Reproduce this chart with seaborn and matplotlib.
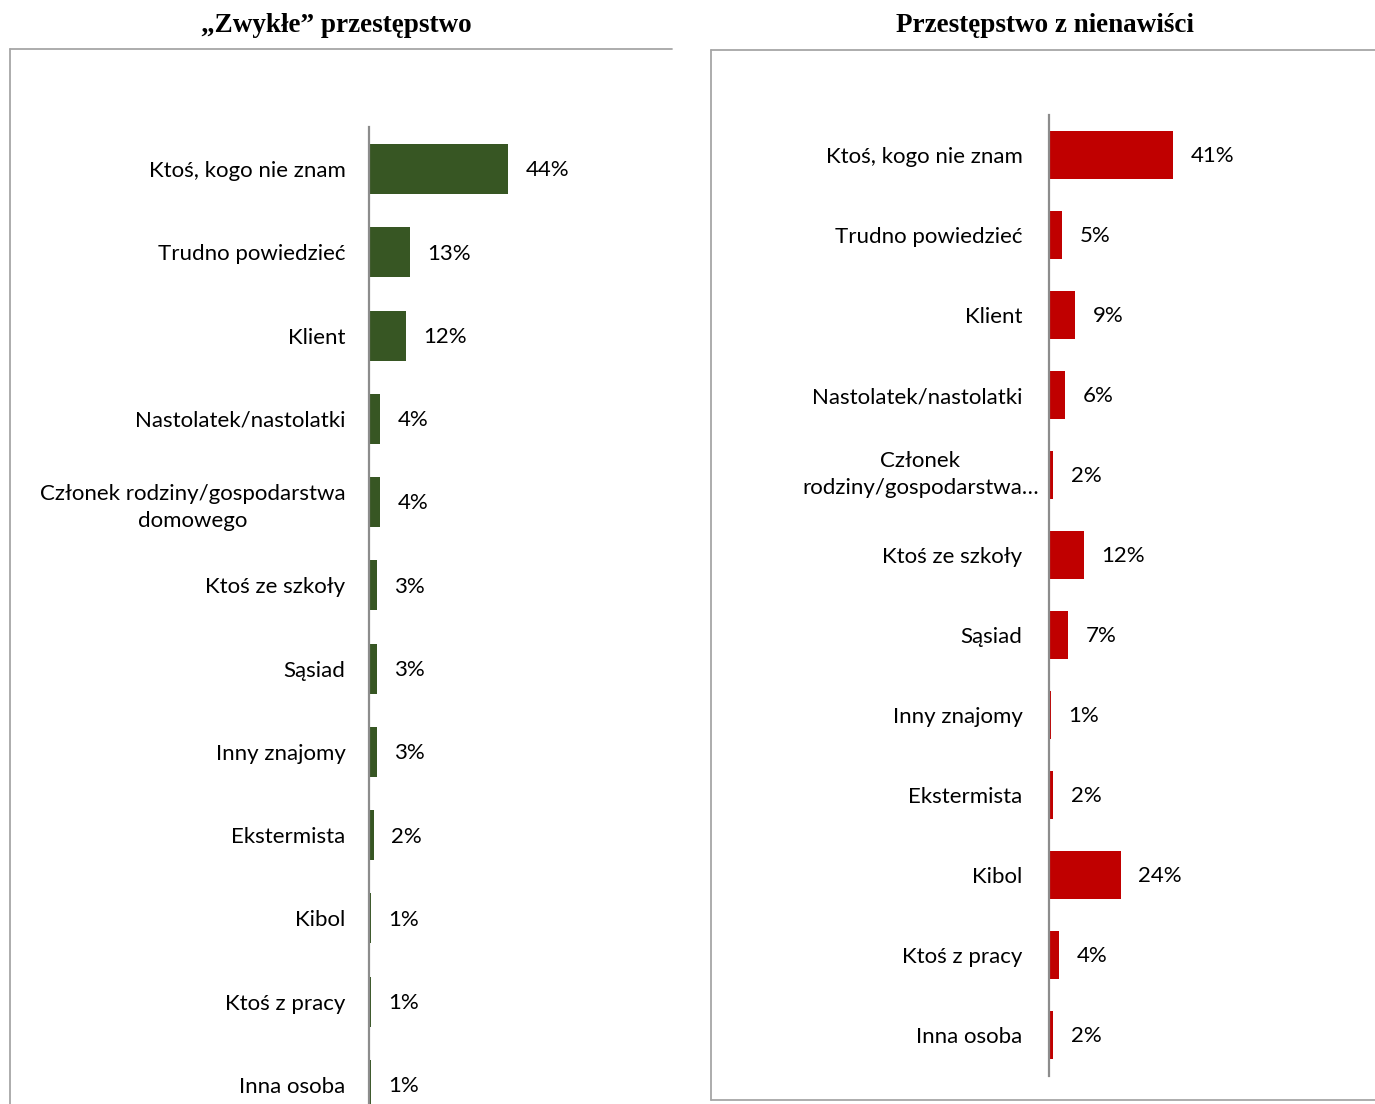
import matplotlib
matplotlib.use("Agg")
import matplotlib.pyplot as plt
import matplotlib.transforms as mtransforms
import pandas as pd
import seaborn as sns
from matplotlib.lines import Line2D

# "Zwykłe" przestępstwo
ordinary_categories = [
    "Ktoś, kogo nie znam",
    "Trudno powiedzieć",
    "Klient",
    "Nastolatek/nastolatki",
    "Członek rodziny/gospodarstwa\ndomowego",
    "Ktoś ze szkoły",
    "Sąsiad",
    "Inny znajomy",
    "Ekstermista",
    "Kibol",
    "Ktoś z pracy",
    "Inna osoba",
]
ordinary_values = [44, 13, 11.7, 3.5, 3.5, 2.5, 2.5, 2.5, 1.6, 0.5, 0.5, 0.5]
ordinary_labels = ["44%", "13%", "12%", "4%", "4%", "3%", "3%", "3%", "2%", "1%", "1%", "1%"]

# Przestępstwo z nienawiści
hate_categories = [
    "Ktoś, kogo nie znam",
    "Trudno powiedzieć",
    "Klient",
    "Nastolatek/nastolatki",
    "Członek\nrodziny/gospodarstwa…",
    "Ktoś ze szkoły",
    "Sąsiad",
    "Inny znajomy",
    "Ekstermista",
    "Kibol",
    "Ktoś z pracy",
    "Inna osoba",
]
hate_values = [41, 4.4, 8.7, 5.4, 1.4, 11.6, 6.4, 0.5, 1.4, 23.8, 3.4, 1.4]
hate_labels = ["41%", "5%", "9%", "6%", "2%", "12%", "7%", "1%", "2%", "24%", "4%", "2%"]

W, H = 1375, 1104
FONT = ["Lato", "DejaVu Sans"]
FRAME = "#a6a6a6"


def box(left, top, right, bottom):
    """Pixel box -> figure fraction [l, b, w, h]."""
    return [left / W, (H - bottom) / H, (right - left) / W, (bottom - top) / H]


def frame_line(fig, x0, y0, x1, y1):
    fig.add_artist(Line2D([x0 / W, x1 / W], [1 - y0 / H, 1 - y1 / H],
                          transform=fig.transFigure, color=FRAME, linewidth=1.3))


def draw_panel(fig, rect, categories, values, labels, color, xmax, ylim, pad):
    ax = fig.add_axes(rect)
    df = pd.DataFrame({"kategoria": categories, "wartosc": values})
    sns.barplot(
        data=df, x="wartosc", y="kategoria", orient="h",
        color=color, saturation=1, width=0.6, linewidth=0, ax=ax,
    )
    for i, (v, lab) in enumerate(zip(values, labels)):
        ax.annotate(lab, (v, i), xytext=(12.5, -1), textcoords="offset points",
                    va="center", ha="left", fontsize=16, family=FONT, color="#000000")
    ax.set_xlim(0, xmax)
    ax.set_ylim(*ylim)
    ax.set_xticks([])
    ax.set_xlabel("")
    ax.set_ylabel("")
    ax.tick_params(axis="y", length=0, pad=pad, labelsize=16, labelcolor="#000000")
    for lbl in ax.get_yticklabels():
        lbl.set_multialignment("center")
        lbl.set_linespacing(1.45)
        lbl.set_family(FONT)
    for side in ["top", "right", "bottom"]:
        ax.spines[side].set_visible(False)
    ax.spines["left"].set_color("#8c8c8c")
    ax.spines["left"].set_linewidth(1.6)
    ax.patch.set_alpha(0)
    return ax


sns.set_theme(style="white")
plt.rcParams["font.family"] = FONT

fig = plt.figure(figsize=(W / 100, H / 100), dpi=100, facecolor="white")

# frames around panels (left one runs off the bottom, right one off the right edge)
frame_line(fig, 10, 49, 672, 49)
frame_line(fig, 10, 49, 10, 1110)
frame_line(fig, 711, 50, 1380, 50)
frame_line(fig, 711, 50, 711, 1100)
frame_line(fig, 711, 1100, 1380, 1100)

# left panel: rows centred at 169 px, spacing ~83 px, axis from 127 px to bottom
step_l = (1085 - 169) / 11
draw_panel(fig, box(369, 127, 672, 1104), ordinary_categories, ordinary_values,
           ordinary_labels, "#375623", (672 - 369) / 3.16,
           ((1104 - 169) / step_l, -(169 - 127) / step_l), 17)

# right panel: rows centred at 155 px, spacing 80 px, axis 115..1076 px
ax_r = draw_panel(fig, box(1049, 115, 1375, 1076), hate_categories, hate_values,
                  hate_labels, "#C00000", (1375 - 1049) / 3.03,
                  ((1076 - 155) / 80, -0.5), 19)
# the truncated two-line label sits a little further right, as in the original
shift = mtransforms.ScaledTranslation(16 / 100, 6 / 100, fig.dpi_scale_trans)
lbl = ax_r.get_yticklabels()[4]
lbl.set_transform(lbl.get_transform() + shift)

fig.text(336 / W, 1 - 26 / H, "„Zwykłe” przestępstwo", ha="center", va="center",
         family="Liberation Serif", fontweight="bold", fontsize=19.5, color="#000000")
fig.text(1045 / W, 1 - 26 / H, "Przestępstwo z nienawiści", ha="center", va="center",
         family="Liberation Serif", fontweight="bold", fontsize=19.5, color="#000000")

fig.savefig("out.png", dpi=100, facecolor="white")
